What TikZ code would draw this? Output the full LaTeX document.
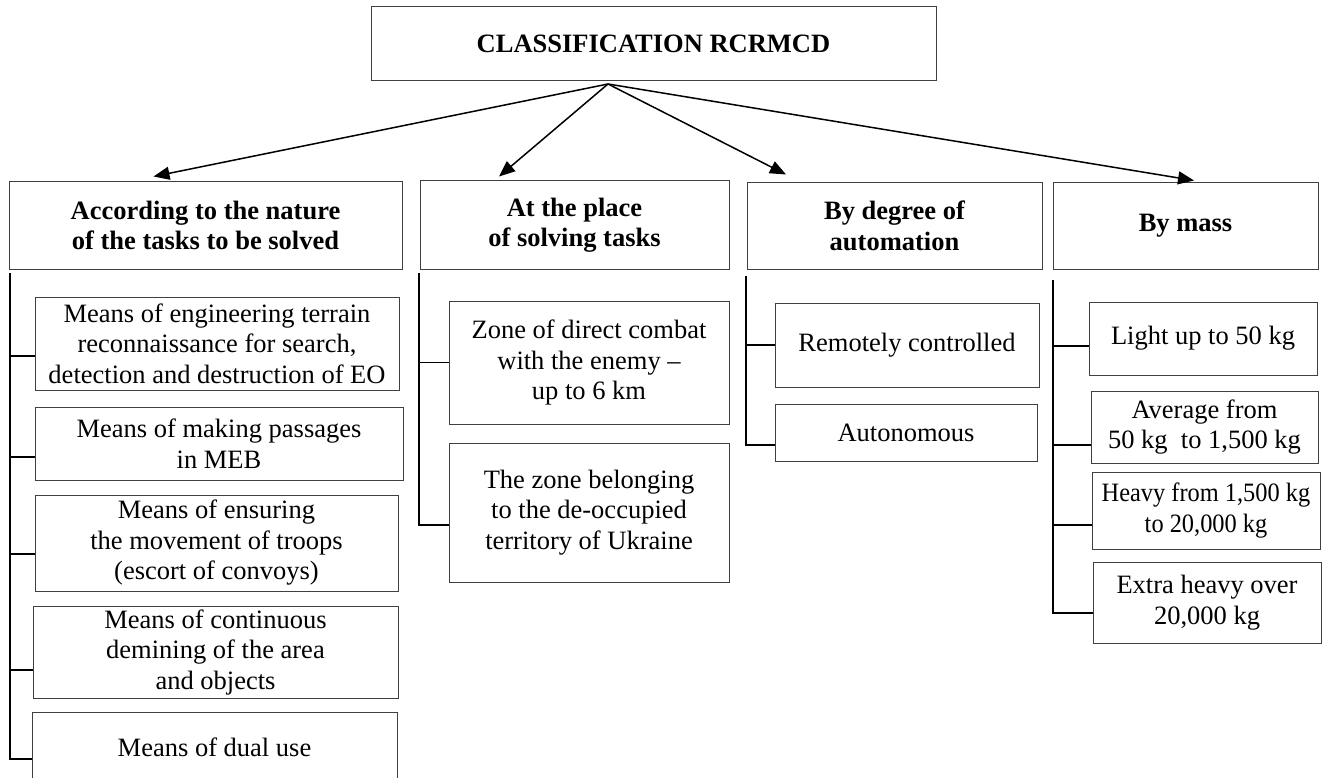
\documentclass[tikz,border=0pt]{standalone}
\usepackage{fontspec}
\setmainfont{Liberation Serif}
\usetikzlibrary{arrows.meta}

\tikzstyle{box}=[rectangle,draw=black!75,line width=1pt,inner sep=0pt,align=center,font=\fontsize{26.5}{30.5}\selectfont]
\tikzstyle{head}=[box,font=\fontsize{26.5}{30.5}\selectfont\bfseries]
\tikzstyle{trunk}=[draw,line width=1.5pt,-]
\tikzstyle{link}=[draw,line width=1.5pt,-{Triangle[length=16pt,width=13pt]}]

\begin{document}
\begin{tikzpicture}[x=1pt,y=-1pt]
	\useasboundingbox (0,0) rectangle (1322,778);
	% top and column heads
	\node [head,minimum width=565pt,minimum height=74pt] (title) at (653.5,44) {CLASSIFICATION RCRMCD};
	\node [head,minimum width=393pt,minimum height=87pt] (nature) at (205.5,225.5) {According to the nature\\of the tasks to be solved};
	\node [head,minimum width=309pt,minimum height=88pt] (place) at (574.5,225) {At the place\\of solving tasks};
	\node [head,minimum width=295pt,minimum height=86pt] (auto) at (894.5,226) {By degree of\\automation};
	\node [head,minimum width=265pt,minimum height=86pt] (mass) at (1185.5,226) {By mass};

	% first column
	\node [box,minimum width=364pt,minimum height=93pt] (eo) at (217,343.5) {Means of engineering terrain\\reconnaissance for search,\\detection and destruction of EO};
	\node [box,minimum width=368pt,minimum height=73pt] (meb) at (219,443.5) {Means of making passages\\in MEB};
	\node [box,minimum width=363pt,minimum height=96pt] (troops) at (216.5,543) {Means of ensuring\\the movement of troops\\(escort of convoys)};
	\node [box,minimum width=365pt,minimum height=92pt] (demine) at (215.5,652) {Means of continuous\\demining of the area\\and objects};
	\node [box,minimum width=365pt,minimum height=70pt] (dual) at (214.5,747) {Means of dual use};

	% second column
	\node [box,minimum width=280pt,minimum height=123pt] (combat) at (589,362.5) {Zone of direct combat\\with the enemy --\\up to 6 km};
	\node [box,minimum width=280pt,minimum height=139pt] (deocc) at (589,512.5) {The zone belonging\\to the de-occupied\\territory of Ukraine};

	% third column
	\node [box,minimum width=264pt,minimum height=84pt] (remote) at (907,345) {Remotely controlled};
	\node [box,minimum width=262pt,minimum height=57pt] (autonom) at (906,432.5) {Autonomous};

	% fourth column
	\node [box,minimum width=228pt,minimum height=73pt] (light) at (1203,338.5) {Light up to 50 kg};
	\node [box,minimum width=227pt,minimum height=72pt] (average) at (1204.5,427) {Average from\\50 kg\ \ to 1,500 kg};
	\node [box,minimum width=228pt,minimum height=77pt,font=\fontsize{26.5}{30.5}\selectfont\addfontfeatures{FakeStretch=0.92}] (heavy) at (1206,510.5) {Heavy from 1,500 kg\\to 20,000 kg};
	\node [box,minimum width=228pt,minimum height=81pt] (extra) at (1207,602.5) {Extra heavy over\\20,000 kg};

	\coordinate (src) at (608,84);
	\coordinate (ta) at (10,273);
	\coordinate (tb) at (419,273);
	\coordinate (tc) at (746,276);
	\coordinate (td) at (1053,280);

	\draw [link] (src) -- ([xshift=-52pt,yshift=5pt]nature.north);
	\draw [link] (src) -- ([xshift=-75.5pt,yshift=4pt]place.north);
	\draw [link] (src) -- ([xshift=-108.5pt,yshift=8pt]auto.north);
	\draw [link] (src) -- ([xshift=8.5pt,yshift=2pt]mass.north);

	\draw [trunk] (ta) |- ([yshift=-12pt]dual.west);
	\draw [trunk] (tb) |- ([yshift=-12.5pt]deocc.west);
	\draw [trunk] (tc) |- ([yshift=-12.5pt]autonom.west);
	\draw [trunk] (td) |- ([yshift=-10.5pt]extra.west);
	\foreach \n/\s in {eo/-12.5,meb/-13.5,troops/-11,demine/-18}
		\draw [trunk] ([yshift=\s pt]\n.west) coordinate (t) -- (t -| ta);
	\draw [trunk] (combat.west) -- (combat.west -| tb);
	\draw [trunk] (remote.west) -- (remote.west -| tc);
	\foreach \n/\s in {light/-7.5,average/-18,heavy/-14.5}
		\draw [trunk] ([yshift=\s pt]\n.west) coordinate (t) -- (t -| td);
\end{tikzpicture}
\end{document}
